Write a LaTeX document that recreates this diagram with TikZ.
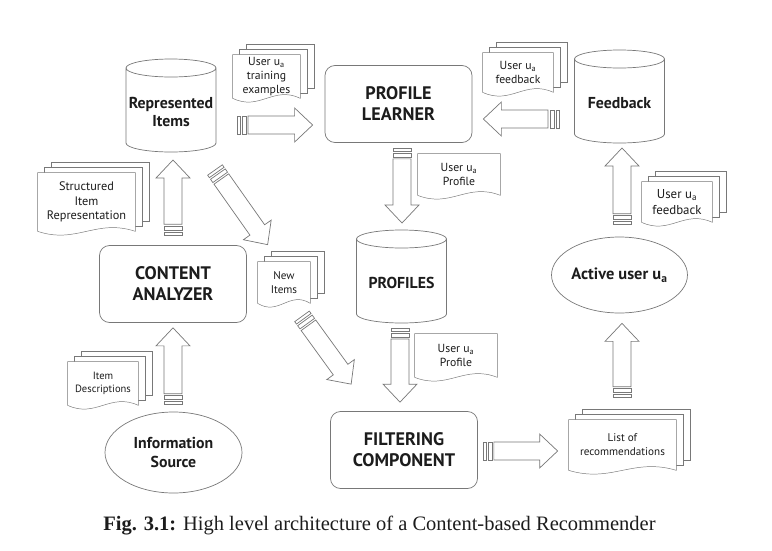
\documentclass[tikz,border=0pt]{standalone}
\usepackage{fontspec}
\setmainfont{PT Sans}
\newfontfamily\capfont{Liberation Serif}
\usetikzlibrary{calc,backgrounds,shapes.geometric}

\definecolor{linegray}{RGB}{120,120,120}
\definecolor{inkgray}{RGB}{28,28,28}

% Block arrow with a striped tail: #1 tail point, #2 tip point
\newcommand\blockarrow[2]{%
  \path #1 coordinate (bt) #2 coordinate (bh);
  \draw[barrow] ($(bt)!0.33cm!(bh)!0.27cm!90:(bh)$)
    -- ($(bh)!0.54cm!(bt)!0.27cm!-90:(bt)$) -- ($(bh)!0.54cm!(bt)!0.51cm!-90:(bt)$)
    -- (bh)
    -- ($(bh)!0.54cm!(bt)!0.51cm!90:(bt)$) -- ($(bh)!0.54cm!(bt)!0.27cm!90:(bt)$)
    -- ($(bt)!0.33cm!(bh)!0.27cm!-90:(bh)$) -- cycle;
  \foreach \a/\b in {0cm/0.09cm, 0.15cm/0.27cm}
    \draw[barrow] ($(bt)!\a!(bh)!0.27cm!90:(bh)$) -- ($(bt)!\b!(bh)!0.27cm!90:(bh)$)
      -- ($(bt)!\b!(bh)!0.27cm!-90:(bh)$) -- ($(bt)!\a!(bh)!0.27cm!-90:(bh)$) -- cycle;
}
% Cylinder outline round a text node
\newcommand\dbdraw[1]{%
  \draw[dbline] ($(#1)+(-45,-44)$) -- ($(#1)+(-45,31)$)
    arc[start angle=180, end angle=360, x radius=1.35cm, y radius=0.27cm]
    -- ($(#1)+(45,-44)$)
    arc[start angle=0, end angle=360, x radius=1.35cm, y radius=0.27cm];
}
% Document sheet with a wavy lower edge, behind node #1
\newcommand\docsheet[1]{%
  \begin{scope}[on background layer]
    \draw[sheet] (#1.south west) -- (#1.north west) -- (#1.north east) -- (#1.south east)
      .. controls ($(#1.south east)!0.4!(#1.south west)+(0,-13)$)
             and ($(#1.south east)!0.6!(#1.south west)+(0,13)$) .. (#1.south west) -- cycle;
  \end{scope}
}
% Stack of three sheets
\newcommand\docstack[1]{%
  \begin{scope}[on background layer]
    \foreach \k in {2,1}
      \draw[sheet] ($(#1.north west)+(7*\k,-5*\k)$) rectangle ($(#1.south east)+(7*\k,-5*\k)$);
  \end{scope}
  \docsheet{#1}
}

\begin{document}
\begin{tikzpicture}[%
    x=0.03cm, y=-0.03cm,      % one unit is one pixel of the layout
    line width=0.6pt,
    ]
% -------------------------------------------------
% Styles
\tikzset{
  base/.style={align=center, text=inkgray, inner sep=1pt},
  box/.style={base, draw=linegray, rounded corners=0.3cm, minimum width=4.41cm,
    minimum height=2.31cm, font=\bfseries\fontsize{15.5}{18}\selectfont},
  dbase/.style={base, font=\bfseries\fontsize{13.5}{15}\selectfont},
  oval/.style={base, draw=linegray, ellipse, inner sep=0pt,
    font=\bfseries\fontsize{13.5}{16}\selectfont},
  doc/.style={base, font=\fontsize{10}{12}\selectfont},
  sheet/.style={draw=linegray, fill=white},
  dbline/.style={draw=linegray},
  barrow/.style={draw=linegray, fill=white, line join=miter},
}
\useasboundingbox (0,0) rectangle (772,550);
% -------------------------------------------------
% Components
\node[dbase] (repitems) at (171,112) {Represented\\Items};
\node[dbase] (feedback) at (619.5,103) {Feedback};
\node[dbase] (profiles) at (401.5,283) {PROFILES};
\dbdraw{repitems}
\dbdraw{feedback}
\dbdraw{profiles}

\node[box] (learner) at (398.5,104) {PROFILE\\LEARNER};
\node[box] (analyzer) at (173,284) {CONTENT\\ANALYZER};
\node[box] (filtering) at (404,450) {FILTERING\\COMPONENT};

\node[oval, minimum width=4.11cm, minimum height=2.43cm] (infosrc)
  at (173.5,452.5) {Information\\Source};
\node[oval, minimum width=3.33cm, minimum height=2.28cm,
  font=\bfseries\fontsize{14}{16}\selectfont] (activeuser)
  at (619.5,275) {Active user u\textsubscript{a}};

% -------------------------------------------------
% Documents
\node[doc, minimum width=2.01cm, minimum height=1.29cm] (trainex) at (266.5,76.5)
  {User u\textsubscript{a}\\training\\examples};
\node[doc, minimum width=2.46cm, minimum height=1.23cm] (profdoc) at (459,174.5)
  {User u\textsubscript{a}\\Profile};
\node[doc, minimum width=2.1cm, minimum height=1.17cm] (fbtop) at (518,72.5)
  {User u\textsubscript{a}\\feedback};
\node[doc, minimum width=2.1cm, minimum height=1.2cm,
  font=\fontsize{11}{13}\selectfont] (fbright) at (677,202) {User u\textsubscript{a}\\feedback};
\node[doc, minimum width=2.91cm, minimum height=1.74cm,
  font=\fontsize{10.5}{12.5}\selectfont] (structrep) at (86.5,202) {Structured\\Item\\Representation};
\node[doc, minimum width=1.56cm, minimum height=1.23cm,
  font=\fontsize{9.5}{12}\selectfont] (newitems) at (284,282.5) {New\\Items};
\node[doc, minimum width=2.46cm, minimum height=1.29cm] (profdocb) at (456,355.5)
  {User u\textsubscript{a}\\Profile};
\node[doc, minimum width=2.1cm, minimum height=1.29cm,
  font=\fontsize{9}{11.5}\selectfont] (itemdesc) at (103,383.5) {Item\\Descriptions};
\node[doc, minimum width=3.21cm, minimum height=1.5cm,
  font=\fontsize{9.5}{12}\selectfont] (reclist) at (622.5,445) {List of\\recommendations};
\docstack{trainex}
\docsheet{profdoc}
\docstack{fbtop}
\docstack{fbright}
\docstack{structrep}
\docstack{newitems}
\docsheet{profdocb}
\docstack{itemdesc}
\docstack{reclist}

% -------------------------------------------------
% Flows
\blockarrow{($(repitems)+(66,13)$)}{($(learner.west)+(-12,21)$)}
\blockarrow{($(learner.south)+(3.5,5)$)}{($(profiles)+(0.5,-60)$)}
\blockarrow{($(feedback)+(-60.5,16)$)}{($(learner.east)+(11,15)$)}
\blockarrow{($(activeuser.north)+(2.5,-12)$)}{($(feedback)+(2.5,45)$)}
\blockarrow{($(analyzer.north)+(0,-10)$)}{($(repitems)+(2,48)$)}
\blockarrow{($(repitems)+(44,58)$)}{($(newitems.north west)+(10,-17)$)}
\blockarrow{($(newitems.south)+(18,13)$)}{($(filtering.north west)+(21,-27)$)}
\blockarrow{($(profiles)+(-1.5,45)$)}{($(filtering.north)+(-4,-9)$)}
\blockarrow{($(filtering.east)+(5,1)$)}{($(reclist.west)+(-11,6)$)}
\blockarrow{($(infosrc.north)+(-0.5,-7)$)}{($(analyzer.south)+(0,5)$)}
\blockarrow{($(reclist.north)+(-0.5,-22)$)}{($(activeuser.south)+(2.5,10)$)}

% -------------------------------------------------
\node[base, anchor=base, font=\capfont\fontsize{17.5}{20}\selectfont] (caption)
  at (379.5,530) {\textbf{Fig. 3.1:} High level architecture of a Content-based Recommender};
\end{tikzpicture}
\end{document}
